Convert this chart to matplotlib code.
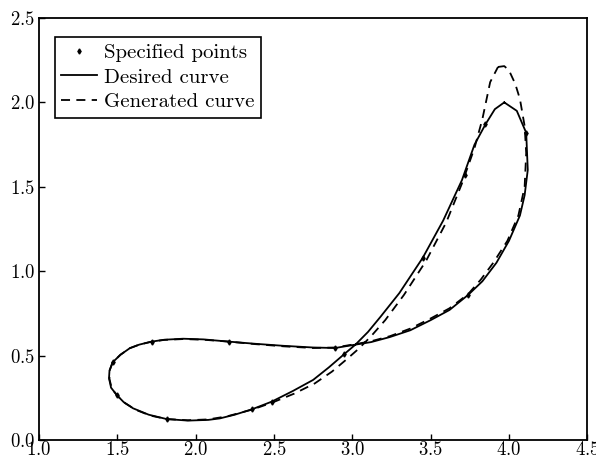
import numpy as np
import matplotlib
matplotlib.use("Agg")
import matplotlib.pyplot as plt

plt.rcParams['font.family'] = ['cmr10', 'DejaVu Serif']
plt.rcParams['axes.formatter.use_mathtext'] = True
plt.rcParams['mathtext.fontset'] = 'cm'

# desired coupler curve (closed loop)
desired_x = [3.97, 4.05, 4.11, 4.12, 4.10, 4.07, 4.00, 3.92, 3.83, 3.74, 3.62, 3.50,
             3.37, 3.24, 3.12, 3.02, 2.89, 2.75, 2.56, 2.38, 2.21, 2.05, 1.92, 1.80,
             1.72, 1.64, 1.58, 1.52, 1.47, 1.45, 1.447, 1.46, 1.496, 1.54, 1.60, 1.70,
             1.815, 1.95, 2.08, 2.155, 2.25, 2.36, 2.485, 2.62, 2.75, 2.85, 2.95, 3.02,
             3.10, 3.18, 3.30, 3.45, 3.58, 3.70, 3.78, 3.85, 3.91, 3.97]
desired_y = [2.00, 1.95, 1.82, 1.60, 1.45, 1.33, 1.18, 1.05, 0.94, 0.86, 0.77, 0.71,
             0.65, 0.61, 0.58, 0.565, 0.545, 0.548, 0.558, 0.570, 0.583, 0.596, 0.600, 0.594,
             0.583, 0.565, 0.544, 0.505, 0.46, 0.41, 0.366, 0.31, 0.267, 0.225, 0.188, 0.150,
             0.124, 0.115, 0.119, 0.128, 0.150, 0.182, 0.227, 0.29, 0.356, 0.43, 0.51, 0.565,
             0.64, 0.73, 0.87, 1.08, 1.30, 1.54, 1.75, 1.87, 1.96, 2.00]

# generated curve
generated_x = [3.93, 3.97, 4.00, 4.04, 4.07, 4.10, 4.11, 4.10, 4.06, 3.99, 3.90, 3.82,
               3.74, 3.62, 3.50, 3.37, 3.24, 3.12, 3.02, 2.89, 2.75, 2.56, 2.38, 2.21,
               2.05, 1.92, 1.80, 1.72, 1.64, 1.58, 1.52, 1.47, 1.45, 1.45, 1.465, 1.50,
               1.55, 1.62, 1.71, 1.815, 1.95, 2.08, 2.20, 2.36, 2.49, 2.63, 2.76, 2.87,
               2.96, 3.04, 3.12, 3.21, 3.33, 3.47, 3.60, 3.70, 3.78, 3.83, 3.88, 3.93]
generated_y = [2.21, 2.215, 2.19, 2.11, 2.02, 1.86, 1.70, 1.50, 1.33, 1.18, 1.05, 0.95,
               0.865, 0.78, 0.72, 0.66, 0.615, 0.585, 0.568, 0.548, 0.545, 0.555, 0.568, 0.583,
               0.594, 0.598, 0.593, 0.583, 0.565, 0.544, 0.505, 0.46, 0.41, 0.36, 0.305, 0.262,
               0.218, 0.178, 0.145, 0.124, 0.117, 0.122, 0.140, 0.180, 0.222, 0.275, 0.335, 0.405,
               0.475, 0.54, 0.615, 0.71, 0.86, 1.06, 1.29, 1.52, 1.73, 1.90, 2.12, 2.21]

# specified precision points
spec_x = [1.47, 1.496, 1.72, 1.815, 2.21, 2.36, 2.485, 2.89, 2.95, 3.45, 3.72, 3.74, 3.85, 4.11]
spec_y = [0.46, 0.267, 0.583, 0.124, 0.583, 0.182, 0.227, 0.544, 0.51, 1.08, 1.57, 0.86, 1.87, 1.82]

fig = plt.figure(figsize=(5.96, 4.58), dpi=100)
ax = fig.add_axes([0.0654, 0.0393, 0.92, 0.9214])

ax.plot(spec_x, spec_y, linestyle='none', marker='d', markersize=2.6,
        color='black', label='Specified points')
ax.plot(desired_x, desired_y, color='black', lw=1.3, label='Desired curve')
ax.plot(generated_x, generated_y, color='black', lw=1.3, dashes=(5, 3.5),
        label='Generated curve')

ax.set_xlim(1.0, 4.5)
ax.set_ylim(0.0, 2.5)
ax.set_xticks(np.arange(1.0, 4.51, 0.5))
ax.set_yticks(np.arange(0.0, 2.51, 0.5))
ax.tick_params(direction='in', length=4, width=1, labelsize=13.5,
               top=False, right=False)
ax.tick_params(axis='x', pad=1)
ax.tick_params(axis='y', pad=3)
for s in ax.spines.values():
    s.set_linewidth(1.3)

leg = ax.legend(loc='upper left', numpoints=1, fontsize=15, fancybox=False,
                framealpha=1, edgecolor='black', handlelength=1.7,
                borderpad=0.3, labelspacing=0.3, handletextpad=0.35,
                bbox_to_anchor=(16 / 548, 1 - 19 / 422), borderaxespad=0)
leg.get_frame().set_linewidth(1.2)

fig.savefig('out.png', dpi=100)
